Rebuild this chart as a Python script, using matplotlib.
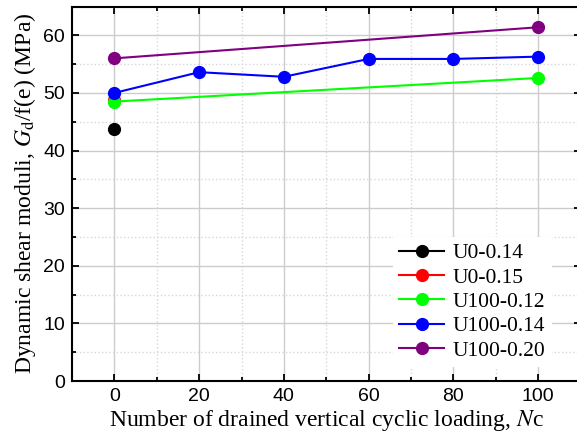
import matplotlib.pyplot as plt
from matplotlib.ticker import MultipleLocator

# Data
labels = ['U0-0.14', 'U0-0.15', 'U100-0.12', 'U100-0.14', 'U100-0.20']
colors = ['black', 'red', '#00ff00', 'blue', 'purple']
nc_u0_014 = [0]
gd_u0_014 = [43.8]
nc_u0_015 = [0]
gd_u0_015 = [48.8]
nc_u100_012 = [0, 100]
gd_u100_012 = [48.5, 52.6]
nc_u100_014 = [0, 20, 40, 60, 80, 100]
gd_u100_014 = [50.0, 53.6, 52.8, 55.9, 55.9, 56.3]
nc_u100_020 = [0, 100]
gd_u100_020 = [56.0, 61.4]

xs = [nc_u0_014, nc_u0_015, nc_u100_012, nc_u100_014, nc_u100_020]
ys = [gd_u0_014, gd_u0_015, gd_u100_012, gd_u100_014, gd_u100_020]

plt.rcParams['mathtext.fontset'] = 'stix'

fig = plt.figure(figsize=(5.77, 4.41), dpi=100)
ax = fig.add_axes([72 / 577, 1 - 381 / 441, (580.6 - 72) / 577, (381 - 6.5) / 441])

for x, y, c, lab in zip(xs, ys, colors, labels):
    ax.plot(x, y, color=c, lw=1.5, marker='o', ms=8.5, label=lab, zorder=3)

ax.set_xlim(-10, 110)
ax.set_ylim(0, 65)
ax.xaxis.set_major_locator(MultipleLocator(20))
ax.xaxis.set_minor_locator(MultipleLocator(10))
ax.yaxis.set_major_locator(MultipleLocator(10))
ax.yaxis.set_minor_locator(MultipleLocator(5))

ax.grid(which='major', color='#cccccc', lw=1.0, zorder=0)
ax.grid(which='minor', color='#d8d8d8', lw=1.0, ls=':', zorder=0)

ax.tick_params(which='both', direction='in', top=True, right=True, width=1.3)
ax.tick_params(which='major', length=5, labelsize=14, pad=5)
ax.tick_params(which='minor', length=3)
for lab in ax.get_xticklabels() + ax.get_yticklabels():
    lab.set_fontfamily('Liberation Sans')
for s in ax.spines.values():
    s.set_linewidth(1.5)

ax.set_xlabel('Number of drained vertical cyclic loading, $\\it{N}$c',
              fontfamily='Liberation Serif', fontsize=17, labelpad=2)
ax.set_ylabel('Dynamic shear moduli, $\\it{G}_{\\rm d}$/f(e) (MPa)',
              fontfamily='Liberation Serif', fontsize=17, labelpad=4)

leg = ax.legend(loc='lower right', bbox_to_anchor=(0.965, 0.008), frameon=True,
                edgecolor='none', framealpha=1.0, fancybox=False,
                prop={'family': 'Liberation Serif', 'size': 15.5},
                handlelength=2.1, handletextpad=0.4, labelspacing=0.2,
                borderpad=0.3)

fig.savefig('out.png', dpi=100)
